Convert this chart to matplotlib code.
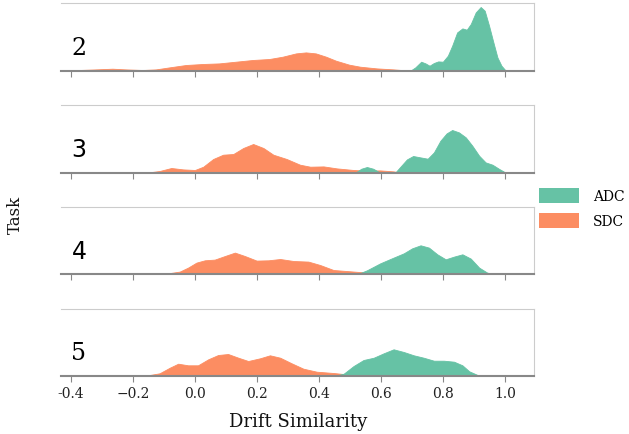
import matplotlib
matplotlib.use("Agg")
import matplotlib.pyplot as plt
from matplotlib.patches import Patch

# ---- data (density heights) ----
tasks = ["2", "3", "4", "5"]

sdc_x = [
    [-0.438, -0.373, -0.32, -0.266, -0.223, -0.169, -0.126, -0.083, -0.029, 0.025, 0.078, 0.132, 0.186,
     0.24, 0.283, 0.326, 0.358, 0.39, 0.423, 0.455, 0.498, 0.533, 0.587, 0.641, 0.695],
    [-0.157, -0.114, -0.076, -0.038, 0.0, 0.027, 0.059, 0.091, 0.124, 0.156, 0.188, 0.221, 0.253, 0.296,
     0.339, 0.372, 0.415, 0.458, 0.512, 0.555, 0.598, 0.641, 0.668],
    [-0.146, -0.092, -0.049, -0.022, 0.005, 0.032, 0.064, 0.097, 0.129, 0.161, 0.199, 0.237, 0.275, 0.318,
     0.366, 0.404, 0.447, 0.501, 0.555, 0.609, 0.641],
    [-0.2, -0.146, -0.114, -0.081, -0.054, -0.022, 0.01, 0.043, 0.075, 0.107, 0.14, 0.172, 0.21, 0.242,
     0.275, 0.312, 0.35, 0.393, 0.447, 0.501, 0.555, 0.609],
]
sdc_y = [
    [0.0, 0.07, 0.13, 0.2, 0.13, 0.07, 0.13, 0.33, 0.57, 0.67, 0.73, 0.9, 1.07,
     1.17, 1.4, 1.73, 1.83, 1.73, 1.4, 1.0, 0.6, 0.4, 0.23, 0.13, 0.0],
    [0.0, 0.17, 0.47, 0.33, 0.27, 0.6, 1.37, 1.8, 1.87, 2.47, 2.87, 2.47, 1.8, 1.37,
     0.8, 0.6, 0.63, 0.43, 0.27, 0.2, 0.23, 0.13, 0.0],
    [0.0, 0.07, 0.27, 0.67, 1.17, 1.4, 1.47, 1.83, 2.17, 1.83, 1.37, 1.4, 1.53, 1.33,
     1.27, 0.93, 0.43, 0.3, 0.17, 0.07, 0.0],
    [0.0, 0.1, 0.27, 0.83, 1.23, 1.07, 1.07, 1.67, 2.1, 2.2, 1.83, 1.5, 1.77, 2.07,
     1.83, 1.27, 0.73, 0.43, 0.3, 0.13, 0.07, 0.0],
]

adc_x = [
    [0.695, 0.711, 0.73, 0.744, 0.757, 0.771, 0.785, 0.80, 0.816, 0.83, 0.846, 0.863, 0.877, 0.89,
     0.906, 0.922, 0.935, 0.949, 0.963, 0.976, 0.989, 1.003],
    [0.517, 0.537, 0.555, 0.575, 0.598, 0.646, 0.663, 0.684, 0.704, 0.728, 0.751, 0.771, 0.792, 0.812,
     0.83, 0.852, 0.874, 0.895, 0.917, 0.938, 0.96, 0.982, 1.003],
    [0.523, 0.555, 0.598, 0.641, 0.674, 0.701, 0.728, 0.755, 0.782, 0.809, 0.836, 0.863, 0.89, 0.917,
     0.943, 0.965],
    [0.447, 0.48, 0.512, 0.544, 0.577, 0.609, 0.641, 0.674, 0.706, 0.738, 0.771, 0.803, 0.836, 0.863,
     0.885, 0.912, 0.933],
]
adc_y = [
    [0.0, 0.33, 0.9, 0.73, 0.5, 0.77, 0.93, 0.9, 1.5, 2.5, 3.83, 4.23, 4.1, 4.67,
     5.83, 6.37, 6.0, 4.5, 2.83, 1.33, 0.5, 0.0],
    [0.0, 0.4, 0.57, 0.4, 0.0, 0.0, 0.6, 1.33, 1.67, 1.53, 1.4, 2.03, 3.2, 3.93,
     4.27, 4.03, 3.53, 2.7, 1.7, 1.03, 0.8, 0.37, 0.0],
    [0.0, 0.4, 1.1, 1.67, 2.1, 2.6, 2.9, 2.67, 2.0, 1.5, 1.77, 2.0, 1.57, 0.67,
     0.17, 0.0],
    [0.0, 0.23, 1.0, 1.6, 1.83, 2.27, 2.67, 2.4, 2.07, 1.83, 1.53, 1.53, 1.43, 1.07,
     0.47, 0.1, 0.0],
]

xticks = [-0.4, -0.2, 0.0, 0.2, 0.4, 0.6, 0.8, 1.0]
xtick_labels = ["-0.4", "\u22120.2", "0.0", "0.2", "0.4", "0.6", "0.8", "1.0"]

ADC_COLOR = "#66c2a5"
SDC_COLOR = "#fc8d62"
SERIF = "DejaVu Serif"

fig = plt.figure(figsize=(6.29, 4.35), dpi=100)

W = 629.0
H = 435.0
left_px, right_px = 61.0, 534.0
panel_h = 67.4
bottoms_px = [71.7, 173.7, 275.3, 377.0]
number_fonts = [SERIF, "DejaVu Sans", "DejaVu Sans", SERIF]

for i, t in enumerate(tasks):
    ax = fig.add_axes([left_px / W, 1 - bottoms_px[i] / H,
                       (right_px - left_px) / W, panel_h / H])
    ax.fill_between(sdc_x[i], sdc_y[i], 0, color=SDC_COLOR, lw=0.6,
                    edgecolor=SDC_COLOR, joinstyle="round", zorder=2)
    ax.fill_between(adc_x[i], adc_y[i], 0, color=ADC_COLOR, lw=0.6,
                    edgecolor=ADC_COLOR, joinstyle="round", zorder=3)
    ax.set_xlim(-0.432, 1.094)
    ax.set_ylim(0, panel_h / 10.0)
    ax.set_yticks([])
    ax.spines["left"].set_visible(False)
    for s in ("top", "right"):
        ax.spines[s].set_color("#cccccc")
        ax.spines[s].set_linewidth(0.8)
    ax.spines["bottom"].set_color("#888888")
    ax.spines["bottom"].set_linewidth(1.5)
    ax.spines["bottom"].set_zorder(4)
    ax.set_xticks(xticks)
    ax.tick_params(axis="x", length=4, width=0.8, color="#888888",
                   labelsize=10, pad=3)
    if i < len(tasks) - 1:
        ax.set_xticklabels([])
    else:
        ax.set_xticklabels(xtick_labels, family=SERIF, color="#222222")
    ax.text(0.022, 0.35, t, transform=ax.transAxes, fontsize=17,
            family=number_fonts[i], va="center", ha="left", color="black")

fig.text(298 / W, 1 - 422 / H, "Drift Similarity", family=SERIF,
         fontsize=13, ha="center", va="center", color="#111111")
fig.text(15 / W, 1 - 215 / H, "Task", family=SERIF, fontsize=12,
         rotation=90, ha="center", va="center", color="#111111")

handles = [Patch(facecolor=ADC_COLOR, edgecolor="none", label="ADC"),
           Patch(facecolor=SDC_COLOR, edgecolor="none", label="SDC")]
fig.legend(handles=handles, loc="upper left",
           bbox_to_anchor=(533 / W, 1 - 183 / H), frameon=False,
           prop={"family": SERIF, "size": 10}, handlelength=2.9,
           handleheight=1.3, handletextpad=1.0, labelspacing=0.75,
           borderaxespad=0)

fig.savefig("out.png", dpi=100)
